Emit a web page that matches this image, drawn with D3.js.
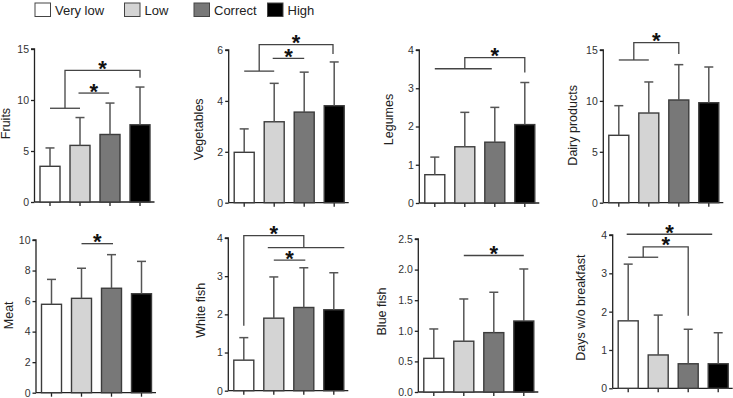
<!DOCTYPE html>
<html>
<head>
<meta charset="utf-8">
<script src="https://cdn.jsdelivr.net/npm/d3@7"></script>
<style>
    body { margin: 0; background: #fff; }
    #chart svg { display: block; font-family: "Liberation Sans", Arial, sans-serif; }
</style>
</head>
<body>
<div id="chart"></div>
<script>
const groups = ["Very low", "Low", "Correct", "High"];
const variables = ["Fruits", "Vegetables", "Legumes", "Dairy products",
    "Meat", "White fish", "Blue fish", "Days w/o breakfast"];
const yMaxes = [15, 6, 4, 15, 10, 4, 2.5, 4];
const yTickSteps = [5, 2, 1, 5, 2, 1, 0.5, 1];

const means = [
    [3.5, 5.55, 6.62, 7.57],
    [1.98, 3.18, 3.56, 3.81],
    [0.74, 1.47, 1.59, 2.05],
    [6.62, 8.81, 10.09, 9.82],
    [5.79, 6.18, 6.84, 6.48],
    [0.8, 1.9, 2.18, 2.12],
    [0.55, 0.83, 0.97, 1.16],
    [1.76, 0.87, 0.64, 0.64]
];
// top of each error bar (mean + SD)
const sdTops = [
    [5.3, 8.28, 9.7, 11.27],
    [2.9, 4.69, 5.13, 5.53],
    [1.2, 2.37, 2.5, 3.15],
    [9.53, 11.86, 13.56, 13.33],
    [7.42, 8.15, 9.04, 8.6],
    [1.39, 2.98, 3.22, 3.09],
    [1.03, 1.52, 1.63, 2.01],
    [3.24, 1.91, 1.54, 1.45]
];

// plain group lines (no star): [from bar, to bar, value]
const groupLines = [
    [[0, 1, 9.19]],
    [[0, 1, 5.17]],
    [[0, 1.9, 3.51]],
    [[0, 1, 14.02]],
    [],
    [[0.8, 3.35, 3.75]],
    [],
    [[0, 1, 3.42]]
];
// significance brackets: [left bar, left foot, top, right bar, right foot]
const brackets = [
    [[0.5, 9.19, 12.9, 3, 12.17], [0.95, 10.68, 10.68, 1.97, 10.68]],
    [[0.5, 5.17, 6.21, 2.96, 5.84], [0.95, 5.67, 5.67, 2, 5.67]],
    [[1, 3.51, 3.8, 3, 3.41]],
    [[0.5, 14.02, 15.72, 2, 14.6]],
    [[1, 9.76, 9.76, 2.05, 9.76]],
    [[0, 1.7, 4.06, 2, 3.75], [1, 3.42, 3.42, 2.05, 3.42]],
    [[1, 2.23, 2.23, 3, 2.23]],
    [[-0.05, 4.02, 4.02, 2.8, 4.02], [0.5, 3.42, 3.69, 2, 1.89]]
];

const barColors = ["#ffffff", "#d4d4d4", "#787878", "#000000"];

// layout of each panel (y axis x, axis top, axis bottom, label offset, label shift)
const axisXs = [34.5, 228.7, 419.3, 603.3, 36, 228.3, 418.3, 612.7];
const axisTops = [49, 50, 50, 50, 240, 238, 239, 235];
const axisBottoms = [202, 202.7, 203, 202.7, 392.7, 390.7, 392, 388.3];
const labelOffsets = [25, 26, 26, 26, 23.5, 23.5, 32, 28];
const labelShifts = [-2, 3, -7, -1, -1, -4, -4, -4];

const svg = d3.select("#chart").append("svg")
    .attr("width", 733)
    .attr("height", 398);

// legend
const legendX = [35, 124.5, 194, 267.5];
const legend = svg.selectAll(".legend")
    .data(groups)
    .enter().append("g")
    .attr("class", "legend")
    .attr("transform", (d, i) => `translate(${legendX[i]}, 3)`);

legend.append("rect")
    .attr("width", 15.5)
    .attr("height", 13.5)
    .attr("fill", (d, i) => barColors[i])
    .attr("stroke", "#444")
    .attr("stroke-width", 1);

legend.append("text")
    .attr("x", 20)
    .attr("y", 11.5)
    .style("font-size", "13px")
    .style("fill", "#222")
    .text(d => d);

variables.forEach((name, p) => drawPanel(p));

function drawPanel(p) {
    const ax = axisXs[p];
    const g = svg.append("g");

    const x = d3.scaleBand()
        .domain(groups)
        .range([ax + 0.5, ax + 120.5])
        .paddingInner(1 / 3)
        .paddingOuter(1 / 6);
    const bw = x.bandwidth();
    // fractional bar index -> centre pixel
    const xi = d3.scaleLinear()
        .domain([0, 3])
        .range([x(groups[0]) + bw / 2, x(groups[3]) + bw / 2]);

    const y = d3.scaleLinear()
        .domain([0, yMaxes[p]])
        .range([axisBottoms[p], axisTops[p]]);

    const ticks = d3.range(0, yMaxes[p] + 1e-9, yTickSteps[p]);
    const fmt = yTickSteps[p] < 1 ? d3.format(".1f") : d3.format("d");

    const yAxis = g.append("g")
        .attr("transform", `translate(${ax},0)`)
        .call(d3.axisLeft(y).tickValues(ticks).tickFormat(fmt).tickSize(3.5).tickPadding(2));
    yAxis.select(".domain").attr("d", `M-3.5,${y(yMaxes[p])}H0V${y(0)}`);

    const xAxis = g.append("g")
        .attr("transform", `translate(0,${y(0)})`)
        .call(d3.axisBottom(x).tickSize(4).tickFormat(""));
    xAxis.select(".domain").attr("d", `M${ax},0H${ax + 120}`);

    g.selectAll(".domain, .tick line")
        .attr("stroke", "#222")
        .attr("stroke-width", 1.3);
    yAxis.selectAll("text")
        .style("font-size", "10.5px")
        .style("fill", "#333");

    // bars
    g.selectAll(".bar")
        .data(means[p])
        .enter().append("rect")
        .attr("class", "bar")
        .attr("x", (d, i) => x(groups[i]))
        .attr("y", d => y(d))
        .attr("width", bw)
        .attr("height", d => y(0) - y(d))
        .attr("fill", (d, i) => barColors[i])
        .attr("stroke", "#3c3c3c")
        .attr("stroke-width", 1.4);

    // error bars
    const err = g.selectAll(".err")
        .data(sdTops[p])
        .enter().append("g")
        .attr("class", "err")
        .attr("stroke", "#555")
        .attr("stroke-width", 1.5);
    err.append("line")
        .attr("x1", (d, i) => xi(i))
        .attr("x2", (d, i) => xi(i))
        .attr("y1", (d, i) => y(means[p][i]))
        .attr("y2", d => y(d));
    err.append("line")
        .attr("x1", (d, i) => xi(i) - 4.5)
        .attr("x2", (d, i) => xi(i) + 4.5)
        .attr("y1", d => y(d))
        .attr("y2", d => y(d));

    // group lines
    g.selectAll(".grp")
        .data(groupLines[p])
        .enter().append("line")
        .attr("class", "grp")
        .attr("x1", d => xi(d[0]))
        .attr("x2", d => xi(d[1]))
        .attr("y1", d => y(d[2]))
        .attr("y2", d => y(d[2]))
        .attr("stroke", "#444")
        .attr("stroke-width", 1.3);

    // brackets with stars
    g.selectAll(".bracket")
        .data(brackets[p])
        .enter().append("path")
        .attr("class", "bracket")
        .attr("fill", "none")
        .attr("stroke", "#444")
        .attr("stroke-width", 1.3)
        .attr("d", d => `M${xi(d[0])},${y(d[1])}V${y(d[2])}H${xi(d[3])}V${y(d[4])}`);

    g.selectAll(".star")
        .data(brackets[p])
        .enter().append("text")
        .attr("class", "star")
        .attr("x", d => (xi(d[0]) + xi(d[3])) / 2)
        .attr("y", d => y(d[2]) - 6.5 + 12)
        .attr("text-anchor", "middle")
        .style("font-size", "22px")
        .style("font-weight", "bold")
        .style("fill", "#111")
        .text("*");

    // y label
    g.append("text")
        .attr("transform", "rotate(-90)")
        .attr("x", -((y(0) + y(yMaxes[p])) / 2 + labelShifts[p]))
        .attr("y", ax - labelOffsets[p])
        .attr("text-anchor", "middle")
        .style("font-size", "12.5px")
        .style("fill", "#222")
        .text(variables[p]);
}
</script>
</body>
</html>
